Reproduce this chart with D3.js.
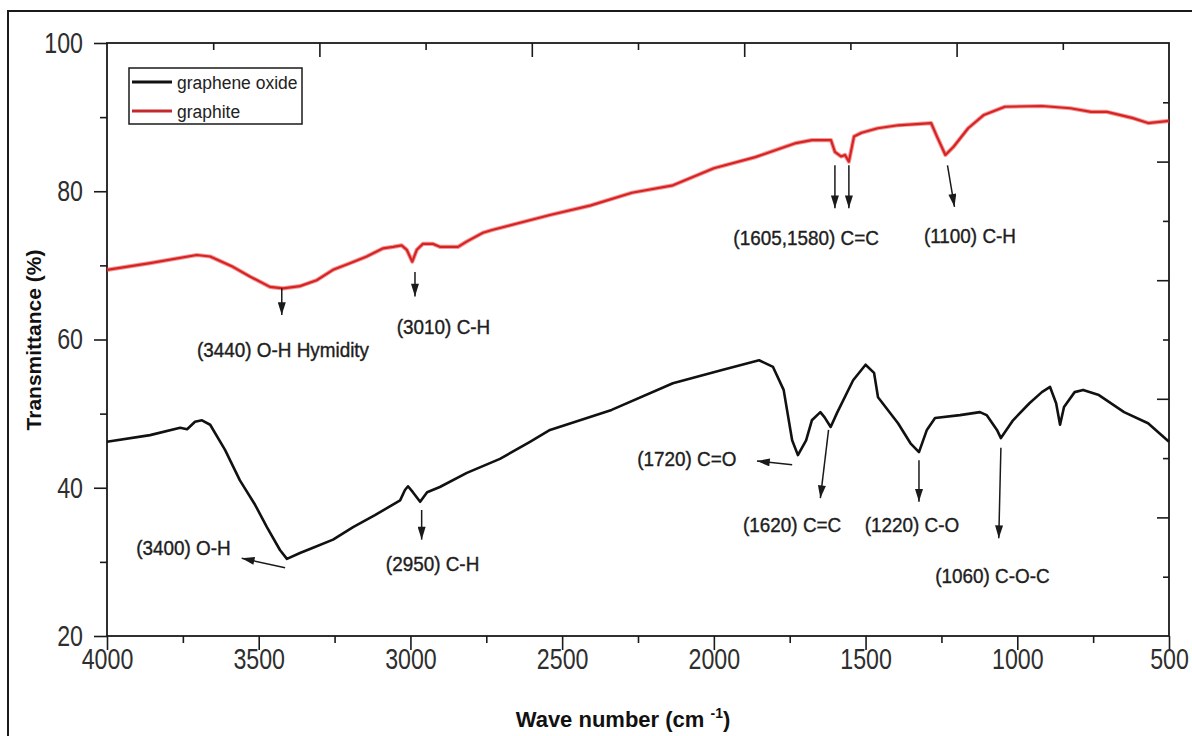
<!DOCTYPE html>
<html>
<head>
<meta charset="utf-8">
<script src="https://cdn.jsdelivr.net/npm/d3@7"></script>
<style>
  html, body { margin: 0; padding: 0; background: #fff; }
  svg { display: block; }
  text { font-family: "Liberation Sans", Arial, sans-serif; }
</style>
</head>
<body>
<svg id="chart" width="1192" height="736"></svg>
<script>
// FTIR spectra: [wavenumber (cm-1), transmittance (%)]
const grapheneOxide = [
  [4000,46.2],[3858,47.1],[3759,48.1],[3736,47.9],[3710,48.9],[3687,49.1],[3660,48.5],
  [3611,45.1],[3562,41.0],[3512,37.7],[3473,34.7],[3430,31.6],[3407,30.4],[3364,31.2],
  [3321,31.9],[3255,33.0],[3189,34.7],[3117,36.3],[3034,38.3],[3018,39.7],[3008,40.2],
  [2992,39.4],[2968,38.1],[2945,39.4],[2903,40.1],[2814,42.0],[2705,43.9],[2606,46.2],
  [2540,47.8],[2337,50.5],[2135,54.1],[1973,55.9],[1851,57.2],[1805,56.3],[1770,53.2],
  [1742,46.4],[1723,44.4],[1696,46.4],[1677,49.1],[1649,50.2],[1635,49.5],[1615,48.2],
  [1594,50.1],[1541,54.5],[1500,56.6],[1472,55.5],[1459,52.2],[1393,48.7],[1352,46.0],
  [1324,44.8],[1298,47.8],[1271,49.4],[1189,49.8],[1123,50.2],[1101,49.8],[1067,47.8],
  [1054,46.7],[1014,49.1],[960,51.4],[919,52.9],[892,53.6],[872,51.4],[859,48.5],
  [846,50.9],[811,52.9],[783,53.2],[731,52.5],[648,50.2],[569,48.7],[500,46.2]
];

const graphite = [
  [4000,69.4],[3858,70.3],[3704,71.4],[3660,71.2],[3585,69.8],[3529,68.5],[3463,67.1],
  [3420,66.9],[3364,67.2],[3309,68.0],[3255,69.4],[3199,70.3],[3144,71.2],[3090,72.3],
  [3057,72.5],[3029,72.7],[3012,72.1],[2994,70.5],[2979,72.1],[2959,72.9],[2926,72.9],
  [2903,72.5],[2843,72.5],[2815,73.2],[2761,74.4],[2728,74.8],[2540,76.8],[2405,78.1],
  [2270,79.8],[2135,80.8],[2000,83.1],[1864,84.6],[1729,86.5],[1677,86.9],[1614,86.9],
  [1601,85.3],[1581,84.7],[1568,84.9],[1555,84.0],[1538,87.4],[1513,87.9],[1460,88.5],
  [1393,88.9],[1284,89.2],[1265,87.4],[1237,84.9],[1210,86.0],[1162,88.5],[1110,90.3],
  [1041,91.4],[919,91.5],[825,91.2],[757,90.7],[704,90.7],[622,89.9],[569,89.2],[500,89.5]
];

const seriesNames = ["graphene oxide", "graphite"];

const xTicks = [4000, 3500, 3000, 2500, 2000, 1500, 1000, 500];
const xMinorTicks = [3750, 3250, 2750, 2250, 1750, 1250, 750];
const yTicks = [20, 40, 60, 80, 100];
const yMinorTicks = [30, 50, 70, 90];

// Band assignments: text anchored at [wavenumber, transmittance]
const peakLabels = [
  { text: "(3440) O-H Hymidity", at: [3420, 58.6] },
  { text: "(3010) C-H",          at: [2891, 61.7] },
  { text: "(1605,1580) C=C",     at: [1696, 73.8] },
  { text: "(1100) C-H",          at: [1156, 74.1] },
  { text: "(1720) C=O",          at: [2089, 43.9] },
  { text: "(1620) C=C",          at: [1742, 35.0] },
  { text: "(1220) C-O",          at: [1347, 35.0] },
  { text: "(1060) C-O-C",        at: [1082, 28.2] },
  { text: "(3400) O-H",          at: [3748, 31.9] },
  { text: "(2950) C-H",          at: [2927, 29.8] }
];

// Arrows from band to label: [from, to] in [wavenumber, transmittance]
const peakArrows = [
  [[3424, 66.9], [3424, 63.3]],
  [[2985, 69.1], [2985, 65.8]],
  [[1601, 83.5], [1601, 77.7]],
  [[1555, 83.5], [1555, 77.7]],
  [[1230, 83.5], [1207, 77.9]],
  [[1742, 43.1], [1858, 43.6]],
  [[1622, 47.8], [1649, 38.6]],
  [[1324, 43.7], [1324, 38.1]],
  [[1054, 45.4], [1061, 33.2]],
  [[3413, 29.2], [3556, 30.5]],
  [[2963, 37.0], [2963, 33.0]]
];

// ---------- layout ----------
const svg = d3.select("#chart");
const plot = { left: 107, right: 1169, top: 43, bottom: 636 };
const ink = "#1a1a1a";
const colors = { go: "#111111", graphite: "#d42424" };

const x = d3.scaleLinear().domain([4000, 500]).range([plot.left, plot.right]);
const y = d3.scaleLinear().domain([20, 100]).range([plot.bottom, plot.top]);

// opposite axes carry plain ten-division ticks
const xTop = d3.scaleLinear().domain([0, 10]).range([plot.left, plot.right]);
const yRight = d3.scaleLinear().domain([0, 10]).range([plot.top, plot.bottom]);

svg.append("rect").attr("width", 1192).attr("height", 736).attr("fill", "#fff");

// page frame
svg.append("rect")
  .attr("x", 8).attr("y", 11).attr("width", 1200).attr("height", 800)
  .attr("fill", "none").attr("stroke", ink).attr("stroke-width", 2);

// narrow the glyphs horizontally, keeping the anchor point in place
function condense(sel, factor) {
  sel.each(function () {
    const t = d3.select(this);
    const x0 = +t.attr("x") || 0;
    t.attr("x", x0 / factor).attr("transform", `scale(${factor},1)`);
  });
}

function styleAxis(g) {
  g.select(".domain").remove();
  g.selectAll(".tick line").attr("stroke", ink).attr("stroke-width", 1.6);
}

// bottom axis
const gx = svg.append("g").attr("transform", `translate(0,${plot.bottom})`)
  .call(d3.axisBottom(x).tickValues(xTicks).tickSize(14).tickPadding(0).tickFormat(d3.format("d")));
styleAxis(gx);
gx.selectAll(".tick text").attr("y", 12).attr("dy", "0.71em")
  .attr("font-size", 29).attr("fill", "#2e2e2e").call(condense, 0.8);
const gxm = svg.append("g").attr("transform", `translate(0,${plot.bottom})`)
  .call(d3.axisBottom(x).tickValues(xMinorTicks).tickSize(7).tickFormat(""));
styleAxis(gxm);

// left axis
const gy = svg.append("g").attr("transform", `translate(${plot.left},0)`)
  .call(d3.axisLeft(y).tickValues(yTicks).tickSize(13).tickPadding(11).tickFormat(d3.format("d")));
styleAxis(gy);
gy.selectAll(".tick text").attr("font-size", 29).attr("fill", "#2e2e2e").call(condense, 0.8);
const gym = svg.append("g").attr("transform", `translate(${plot.left},0)`)
  .call(d3.axisLeft(y).tickValues(yMinorTicks).tickSize(7).tickFormat(""));
styleAxis(gym);

// top axis, ticks pointing inward
const gt = svg.append("g").attr("transform", `translate(0,${plot.top})`)
  .call(d3.axisTop(xTop).tickValues([2, 4, 6, 8]).tickSize(-14).tickFormat(""));
styleAxis(gt);
const gtm = svg.append("g").attr("transform", `translate(0,${plot.top})`)
  .call(d3.axisTop(xTop).tickValues([1, 3, 5, 7, 9]).tickSize(-7).tickFormat(""));
styleAxis(gtm);

// right axis, ticks pointing inward
const gr = svg.append("g").attr("transform", `translate(${plot.right},0)`)
  .call(d3.axisRight(yRight).tickValues([2, 4, 6, 8]).tickSize(-12).tickFormat(""));
styleAxis(gr);
const grm = svg.append("g").attr("transform", `translate(${plot.right},0)`)
  .call(d3.axisRight(yRight).tickValues([1, 3, 5, 7, 9]).tickSize(-6).tickFormat(""));
styleAxis(grm);

// plot frame
svg.append("rect")
  .attr("x", plot.left).attr("y", plot.top)
  .attr("width", plot.right - plot.left).attr("height", plot.bottom - plot.top)
  .attr("fill", "none").attr("stroke", ink).attr("stroke-width", 1.8);

// spectra
const line = d3.line().x(d => x(d[0])).y(d => y(d[1]));

svg.append("path").datum(graphite)
  .attr("d", line).attr("fill", "none")
  .attr("stroke", "#ee4040").attr("stroke-opacity", 0.55).attr("stroke-width", 4.2)
  .attr("stroke-linejoin", "round");
svg.append("path").datum(graphite)
  .attr("d", line).attr("fill", "none")
  .attr("stroke", colors.graphite).attr("stroke-width", 2.2)
  .attr("stroke-linejoin", "round");

svg.append("path").datum(grapheneOxide)
  .attr("d", line).attr("fill", "none")
  .attr("stroke", colors.go).attr("stroke-width", 2.6)
  .attr("stroke-linejoin", "round");

// arrows
svg.append("defs").append("marker")
  .attr("id", "head").attr("viewBox", "0 -5 16 10")
  .attr("refX", 16).attr("refY", 0)
  .attr("markerUnits", "userSpaceOnUse")
  .attr("markerWidth", 15).attr("markerHeight", 8)
  .attr("orient", "auto")
  .append("path").attr("d", "M0,-5L16,0L0,5Z").attr("fill", ink);

svg.append("g").selectAll("line").data(peakArrows).join("line")
  .attr("x1", d => x(d[0][0])).attr("y1", d => y(d[0][1]))
  .attr("x2", d => x(d[1][0])).attr("y2", d => y(d[1][1]))
  .attr("stroke", ink).attr("stroke-width", 1.5)
  .attr("marker-end", "url(#head)");

// band labels
svg.append("g").selectAll("text").data(peakLabels).join("text")
  .attr("x", d => x(d.at[0])).attr("y", d => y(d.at[1]))
  .attr("dy", "0.36em")
  .attr("text-anchor", "middle")
  .attr("font-size", 21)
  .attr("fill", "#1e1e1e")
  .attr("stroke", "#1e1e1e").attr("stroke-width", 0.4)
  .text(d => d.text)
  .call(condense, 0.9);

// legend
const legend = svg.append("g");
legend.append("rect")
  .attr("x", 129).attr("y", 68).attr("width", 173).attr("height", 56)
  .attr("fill", "#fff").attr("stroke", ink).attr("stroke-width", 1.5);
const legendColors = [colors.go, "#c22a2e"];
seriesNames.forEach((name, i) => {
  const ly = 82 + i * 29;
  legend.append("line")
    .attr("x1", 132).attr("x2", 172).attr("y1", ly).attr("y2", ly)
    .attr("stroke", legendColors[i]).attr("stroke-width", 3);
  legend.append("text")
    .attr("x", 177).attr("y", ly).attr("dy", "0.35em")
    .attr("font-size", 19).attr("fill", "#222")
    .text(name)
    .call(condense, 0.92);
});

// axis titles
const xt = svg.append("text")
  .attr("x", 623).attr("y", 727)
  .attr("text-anchor", "middle")
  .attr("font-size", 22).attr("font-weight", "bold").attr("fill", "#111");
xt.append("tspan").text("Wave number (cm ");
xt.append("tspan").attr("font-size", 14).attr("dy", -9).text("-1");
xt.append("tspan").attr("dy", 9).text(")");

svg.append("text")
  .attr("transform", "translate(41,340) rotate(-90)")
  .attr("text-anchor", "middle")
  .attr("font-size", 21).attr("font-weight", "bold").attr("fill", "#111")
  .text("Transmittance (%)");
</script>
</body>
</html>
